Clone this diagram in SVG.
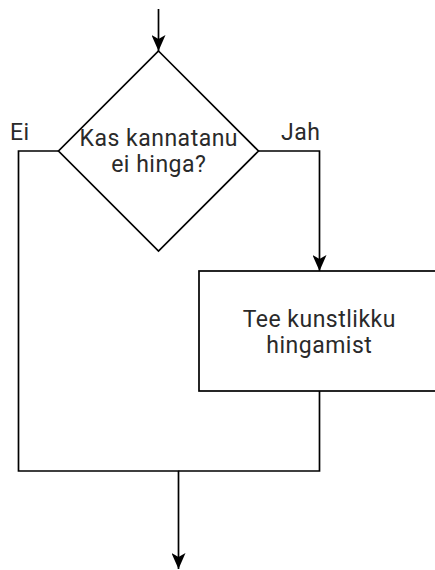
<svg xmlns="http://www.w3.org/2000/svg" width="435" height="570" viewBox="0 0 435 570">
<style>
.shape{fill:#fff;stroke:#000;stroke-width:1.7}
.edge{fill:none;stroke:#000;stroke-width:1.7}
text{font-family:Roboto,"Liberation Sans",sans-serif;font-size:23px;letter-spacing:0.5px;fill:#2a2a2a}
.c{text-anchor:middle}
</style>
<defs>
<marker id="arr" viewBox="0 0 16 14" refX="16" refY="7" markerWidth="16" markerHeight="14" markerUnits="userSpaceOnUse" orient="auto">
<path d="M0,0 L16,7 L0,14 L4,7 Z" fill="#000"/>
</marker>
</defs>
<rect width="435" height="570" fill="#fff"/>
<g id="connectors">
<path class="edge" d="M158.5,9 V51" marker-end="url(#arr)"/>
<path class="edge" d="M258.5,151 H319.5 V271" marker-end="url(#arr)"/>
<path class="edge" d="M58.5,151 H18.5 V471 H178.5 V569" marker-end="url(#arr)"/>
<path class="edge" d="M319.5,391 V471 H178.5"/>
<text x="10" y="140">Ei</text>
<text x="281" y="140">Jah</text>
</g>
<g id="decision">
<polygon class="shape" points="158.5,51 258.5,151 158.5,251 58.5,151"/>
<text class="c" x="158.8" y="146">Kas kannatanu</text>
<text class="c" x="158.8" y="172">ei hinga?</text>
</g>
<g id="action">
<rect class="shape" x="199" y="271" width="240" height="120"/>
<text class="c" x="319.3" y="327">Tee kunstlikku</text>
<text class="c" x="319.3" y="353">hingamist</text>
</g>
</svg>
